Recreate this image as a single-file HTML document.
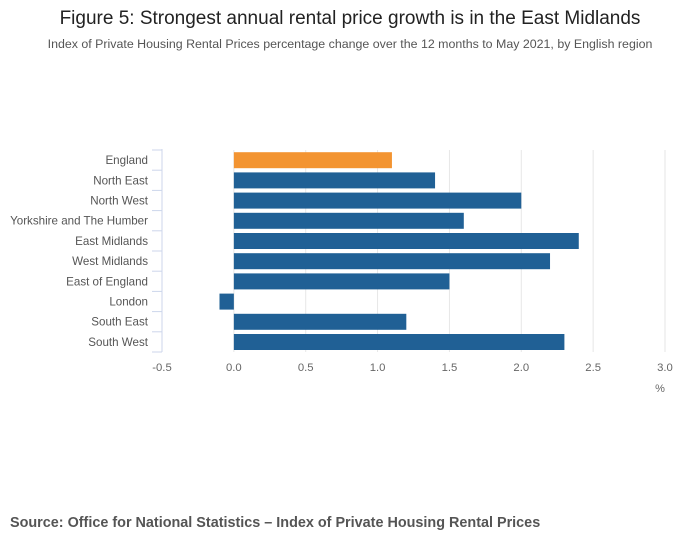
<!DOCTYPE html>
<html><head><meta charset="utf-8"><style>
body{margin:0;background:#fff;font-family:"Liberation Sans",sans-serif;}
svg text{font-family:"Liberation Sans",sans-serif;}
</style></head><body>
<svg width="700" height="549">
<text x="350" y="24" text-anchor="middle" font-size="19" fill="#222">Figure 5: Strongest annual rental price growth is in the East Midlands</text>
<text x="350" y="48" text-anchor="middle" font-size="12.4" fill="#555">Index of Private Housing Rental Prices percentage change over the 12 months to May 2021, by English region</text>
<g id="grid"></g><g id="bars"></g><g id="yaxis"></g><g id="xaxis"></g>
<text x="660" y="392" text-anchor="middle" font-size="11" fill="#666">%</text>
<text x="10" y="527" font-size="14.4" font-weight="bold" fill="#555">Source: Office for National Statistics – Index of Private Housing Rental Prices</text>
</svg>
<script>
const categories=["England","North East","North West","Yorkshire and The Humber","East Midlands","West Midlands","East of England","London","South East","South West"];
const values=[1.1,1.4,2.0,1.6,2.4,2.2,1.5,-0.1,1.2,2.3];
const xTicks=[-0.5,0,0.5,1,1.5,2,2.5,3];
const xTickLabels=["-0.5","0.0","0.5","1.0","1.5","2.0","2.5","3.0"];
const NS="http://www.w3.org/2000/svg";
const x=v=>162+(v+0.5)*(665-162)/3.5;
const top0=150,band=20.2;
const y=i=>top0+i*band;
function mk(t,a,p){const e=document.createElementNS(NS,t);for(const k in a)e.setAttribute(k,a[k]);document.getElementById(p).appendChild(e);return e;}
xTicks.forEach((t,i)=>{
  if(i>0){const g=mk('line',{x1:x(t),x2:x(t),y1:top0,y2:top0+band*categories.length,stroke:'#e6e6e6'},'grid');
  
  }
  const l=mk('text',{x:x(t),y:371,'text-anchor':'middle','font-size':11.3,fill:'#666'},'xaxis');l.textContent=xTickLabels[i];
  
  
});
const ax=mk('line',{x1:162,x2:162,y1:top0-1,y2:top0+band*categories.length,stroke:'#ccd6eb'},'yaxis');


for(let i=0;i<=categories.length;i++){const tk=mk('line',{x1:152,x2:162,y1:y(i),y2:y(i),stroke:'#ccd6eb'},'yaxis');

}
categories.forEach((c,i)=>{
  const v=values[i];
  const r=mk('rect',{x:Math.min(x(0),x(v)),y:y(i)+2.2,width:Math.abs(x(v)-x(0)),height:16,fill:i===0?'#f39431':'#206095'},'bars');
  
  
  const t=mk('text',{x:148,y:y(i)+band/2+4,'text-anchor':'end','font-size':11.6,fill:'#555'},'yaxis');t.textContent=c;
  
  
});
</script>
</body></html>
